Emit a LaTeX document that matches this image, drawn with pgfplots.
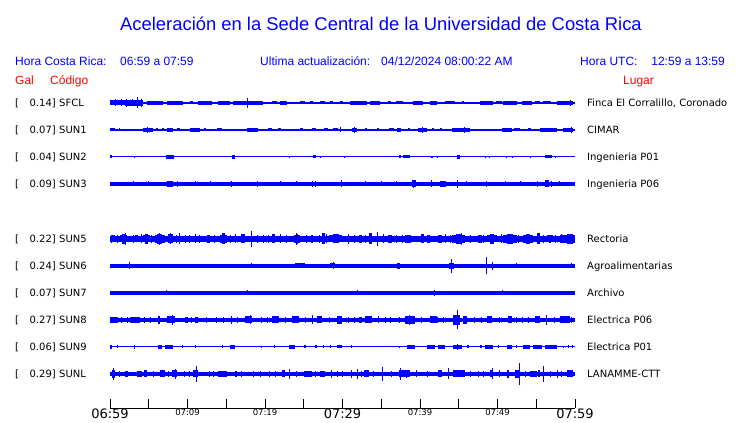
\documentclass[border=0pt]{standalone}
\usepackage{fontspec}
\setmainfont{DejaVu Sans}
\newfontfamily\arial{Liberation Sans}
\usepackage{pgfplots}
\usepackage{pgfplotstable}
\pgfplotsset{compat=1.18}

% a burst of the trace: a block w pt half-wide, h pt half-high
\pgfdeclareplotmark{blk}{%
  \pgfpathrectangle{\pgfpoint{-\bw pt}{-\bh pt}}{\pgfpoint{2*\bw pt}{2*\bh pt}}%
  \pgfusepathqfill}
\pgfplotsset{
  burst/.style={blue, only marks, mark=blk,
    visualization depends on={\thisrow{w}\as\bw},
    visualization depends on={\thisrow{h}\as\bh}},
}

% t = minutes after 06:59
\pgfplotstableread{
t w h
0.97 7.5 2.5
3.1 9 3
0.77 0.5 3.5
1.42 0.5 3.5
2.19 0.5 4
2.84 0.5 3.5
3.61 0.5 5.5
4.0 0.5 4
5.81 8 1.8
8.39 8 1.8
10.5 1.5 1.5
12.26 7 2
14.7 6 2
17.8 15 2
17.68 0.5 5
21.2 2.5 1.5
22.4 3.5 1.8
24.8 2.5 1.5
26.0 1.5 1.5
27.4 2.5 1.5
28.6 1.5 1.5
29.9 1.5 1.5
32.1 8.5 1.8
34.2 5 1.8
36.1 1.5 1.5
37.4 3.5 1.5
39.7 5 1.8
41.7 3.5 1.8
43.9 5 1.5
45.5 1 1.5
48.6 6.5 1.8
50.2 3 1.5
51.6 7 1.8
53.8 5 1.8
55.2 2.5 1.5
56.4 4 1.5
58.7 8 2
59.4 0.5 2.8
}\sfcl

\pgfplotstableread{
t w h
0.32 2.5 1.5
1.29 0.5 1.5
3.5 0.5 1.2
4.9 5 2
4.9 0.5 3
6.06 1 1.5
6.8 0.8 1.5
7.74 3 1.8
8.84 1.5 1.5
10.97 5 2
12.26 0.8 1.5
14.1 2.5 1.5
15.9 0.5 1.2
18.4 5.5 1.8
19.6 0.5 1.2
20.6 2 1.5
21.9 1.5 1.5
22.7 0.5 1.2
24.7 1.5 1.5
26.3 2 1.5
27.9 2 1.5
29.1 2.5 1.5
29.7 0.5 2.5
31.5 2.5 1.8
31.6 0.5 3
33.0 1 1.5
34.6 0.8 1.5
36.3 2.5 1.5
37.3 2 1.8
38.6 0.8 1.5
40.3 4.5 1.8
40.3 0.5 2.8
41.7 1 1.5
42.7 1 1.5
45.3 9 1.8
45.8 0.5 3.2
47.7 0.5 1.2
48.3 0.5 1.2
51.2 5 1.8
52.5 3 1.5
54.1 1.5 1.5
56.6 8.5 1.8
59.1 5 2.2
59.6 0.5 3
}\sunone

\pgfplotstableread{
t w h
0.13 1 1.5
3.2 0.5 1.3
7.74 4 2
15.9 1.5 1.8
23.2 0.5 1.3
26.4 1.5 1.5
27.1 0.5 1.2
30.2 0.5 1.3
37.4 1 1.5
38.3 3.5 1.5
41.5 1 1.3
42.2 0.5 1.3
45.0 1.5 1.8
48.5 0.5 1.2
49.0 0.5 1.3
51.1 0.5 1.2
51.9 0.5 1.2
54.2 0.5 1.2
56.6 3.5 1.5
57.5 0.5 1.2
}\suntwo

\pgfplotstableread{
t w h
3.0 0.5 2.5
5.0 0.5 2.5
7.74 3 3.2
8.77 0.5 3
11.0 0.5 2.5
13.0 0.5 2.5
15.7 0.5 3
19.0 0.5 2.6
22.0 0.5 2.5
24.0 0.5 2.5
26.1 0.5 3
26.5 0.5 3
29.9 0.5 3.5
33.0 0.5 2.5
35.0 0.5 2.5
37.0 0.5 2.5
39.2 2 3.5
39.2 0.5 4
41.5 0.5 3.5
43.0 3 3
44.9 0.5 4
46.0 0.5 2.5
48.6 0.5 2.8
51.0 0.5 2.5
53.0 0.5 2.5
55.1 0.5 2.6
56.4 2 3.5
57.0 0.5 3.2
58.0 0.5 2.5
}\sunthree

\pgfplotstableread{
t w h
0.45 1.5 3.5
1.74 3.5 3.5
1.74 1.5 5
2.06 0.5 6
3.42 1.5 3.5
4.71 3.5 3.5
4.71 1.5 5
6.45 5 3.8
6.45 2.5 5.2
6.45 0.5 6
7.81 2.5 4.5
7.87 0.5 5.5
9.03 0.5 5.5
9.68 0.5 4
12.7 3.5 3.2
12.7 1.2 4
14.65 3.5 4
14.65 1.5 5.5
17.1 5.5 3.3
17.1 2 4.5
18.3 0.5 8
21.1 1.5 4.5
24.1 3 4
24.1 1.2 5.2
24.1 0.5 6
26.1 3 3.2
26.1 1 4
27.5 1.5 5.5
29.1 6.5 3.5
29.1 3 4.5
30.8 0.5 5
32.3 1.5 4
33.6 1.5 5.5
34.5 0.5 7
36.1 5 3.3
36.1 2 4.3
39.2 8.5 3.3
38.5 3 4.3
40.3 1.5 4.5
41.1 1.5 4
42.6 2 4
45.0 6.5 3.8
45.0 3 5
45.4 0.5 6
47.7 2 4
49.3 5 3.5
49.3 2 4.6
51.6 7 3.8
51.6 3 5
53.9 5 3.8
53.9 2 5
55.3 1.5 5.5
56.8 3 3.5
56.8 1 4.3
59.0 7.5 3.6
59.3 3 4.6
0.2 0.5 4
1.0 0.5 4.2
3.0 0.5 4
4.0 0.5 4.5
5.3 0.5 4
8.6 0.5 4.2
10.3 0.5 4
11.0 0.5 4.5
11.6 0.5 4
13.5 0.5 4.2
15.5 0.5 4
16.2 0.5 4.5
19.0 0.5 4
19.8 0.5 4.2
20.4 0.5 4
22.0 0.5 4.5
22.8 0.5 4
25.3 0.5 4.2
27.0 0.5 4
28.0 0.5 4.5
31.5 0.5 4
33.0 0.5 4.2
35.3 0.5 4.5
37.0 0.5 4
37.8 0.5 4.2
40.4 0.5 4
43.3 0.5 4.5
44.0 0.5 4
46.5 0.5 4.2
48.2 0.5 4
50.5 0.5 4.5
52.7 0.5 4
55.9 0.5 4.2
57.5 0.5 4
58.2 0.5 4.5
}\sunfive

\pgfplotstableread{
t w h
1.29 3 2.2
2.58 0.5 3.5
3.6 0.5 2.2
5.2 0.5 2.2
7.35 0.5 2
8.9 0.5 2.2
10.97 0.5 2.3
12.0 0.5 2.2
13.5 0.5 2
15.0 0.5 2.2
16.3 0.5 2.2
18.3 0.5 2.5
19.1 0.5 2.3
21.0 0.5 2.2
23.0 0.5 2.2
24.5 5 2.5
26.5 0.5 2.2
28.7 2.5 2.5
28.9 0.5 3.5
30.0 0.5 2.2
31.6 0.5 2.3
33.0 0.5 2.2
34.3 4 2.3
36.0 0.5 2.2
37.2 1.5 3
39.5 0.5 2.2
41.0 0.5 2.2
43.0 0.5 2.2
44.1 2.5 3
44.1 0.5 7
45.9 0.5 2.3
47.0 0.5 2.2
48.6 0.5 8.5
49.3 0.5 4
51.0 0.5 2.2
52.5 0.5 2.5
54.0 0.5 2.2
56.5 0.5 2.2
58.0 0.5 2.2
59.6 0.5 2.5
}\sunsix

\pgfplotstableread{
t w h
0.9 0.5 2
2.58 0.5 2.3
4.0 1 2.2
7.35 0.5 2.5
8.65 0.5 2.2
14.2 0.5 2.2
17.7 0.5 2.5
28.0 0.5 2.2
31.9 0.5 2.5
41.9 0.5 3
45.2 0.5 2.2
50.6 0.5 2.5
}\sunseven

\pgfplotstableread{
t w h
0.52 4 3
3.23 5 3
6.32 1 4
7.87 4 3.5
8.0 0.5 5
9.87 1.5 3
11.2 1.5 3
15.7 0.5 4
17.9 3.5 3.5
18.1 0.5 4.5
21.4 3.5 3.5
23.9 3.5 3.5
26.1 0.5 4.5
27.0 2.5 3.5
29.6 2.5 4
32.3 1.5 3
33.4 3.5 3.5
34.6 0.5 3.5
38.7 5 4
38.7 0.5 5
41.7 3.5 3.5
43.0 0.5 3
44.7 3.5 5
44.8 0.5 9.5
45.8 2 4
49.0 2.5 3.5
51.6 2 3.5
52.5 0.5 3
55.2 2.5 3.5
56.3 0.5 5
58.7 5 3.5
1.5 0.5 3.2
2.2 0.5 3.2
4.5 0.5 3.2
5.2 0.5 3.2
10.5 0.5 3.2
12.5 0.5 3.2
13.8 0.5 3.2
14.6 0.5 3.2
16.5 0.5 3.2
19.6 0.5 3.2
20.3 0.5 3.2
22.7 0.5 3.2
25.2 0.5 3.2
28.3 0.5 3.2
30.8 0.5 3.2
31.5 0.5 3.2
35.5 0.5 3.2
36.2 0.5 3.2
37.3 0.5 3.2
40.2 0.5 3.2
42.3 0.5 3.2
47.0 0.5 3.2
48.0 0.5 3.2
50.3 0.5 3.2
53.2 0.5 3.2
54.0 0.5 3.2
57.4 0.5 3.2
59.6 0.5 3.2
}\suneight

\pgfplotstableread{
t w h
0.13 1 1.8
1.0 0.5 1.5
3.2 0.5 1.8
6.45 2 1.8
7.61 4 2
9.4 0.5 1.5
11.0 0.5 1.5
14.5 0.5 1.5
15.8 2.5 2
19.6 0.5 1.2
21.2 0.5 1.5
23.5 3 1.8
25.1 1 1.5
26.6 1 1.5
27.6 0.5 1.5
28.5 0.5 1.5
29.6 2.5 1.5
31.2 0.5 1.5
37.3 0.5 1.3
38.8 4 1.8
41.4 4 1.8
42.8 3.5 1.8
44.8 4.5 2.2
44.9 0.5 3
46.2 1 1.5
47.9 1 1.5
48.9 4 1.8
50.1 0.5 1.5
51.5 2.5 1.8
52.5 0.5 1.5
53.7 3.5 1.8
55.2 4.5 1.8
56.9 6 1.8
58.5 0.5 1.3
59.1 0.5 1.5
59.7 0.5 1.5
}\sunnine

\pgfplotstableread{
t w h
0.45 1.5 4
0.39 0.5 6
2.13 1.5 3
3.8 2.5 3
4.58 1.5 3.5
6.77 2.5 3.5
8.32 2.5 3.5
8.4 0.5 5.3
11.0 2.5 3.5
11.2 0.5 8
14.5 4.5 3
16.3 1 3
22.4 1.5 3.5
23.2 0.5 5
25.5 4 3
27.4 2.5 3
28.6 0.5 4
31.2 0.5 4
31.9 0.5 5
33.1 2.5 3.5
35.1 0.5 7
38.0 5.5 3.5
37.5 0.5 6
38.3 0.5 4
39.6 0.5 3.5
42.6 2 3.5
43.7 0.5 5.5
45.0 6 3.5
49.2 1.5 3.5
49.3 0.5 5.5
50.3 0.5 3.5
51.3 1 4
52.6 2.5 4
52.8 0.5 11
54.6 3.5 3
55.4 1 3.5
56.0 0.5 8
56.8 0.5 3
57.7 0.5 4
59.4 3 3.5
1.2 0.5 3
5.6 0.5 3
7.5 0.5 3
9.6 0.5 3
10.2 0.5 3
12.8 0.5 3
13.3 0.5 3
17.0 0.5 3
18.5 0.5 3
19.4 0.5 3
20.6 0.5 3
21.3 0.5 3
24.0 0.5 3
26.5 0.5 3
29.3 0.5 3
30.0 0.5 3
32.5 0.5 3
34.0 0.5 3
36.3 0.5 3
41.0 0.5 3
46.5 0.5 3
47.5 0.5 3
48.2 0.5 3
53.6 0.5 3
58.3 0.5 3
}\sunl

\begin{document}
\begin{tikzpicture}
\path[use as bounding box] (0,0) rectangle (740pt,423pt);

\begin{axis}[
  at={(110pt,15pt)}, anchor=south west,
  scale only axis, width=465pt, height=318pt,
  xmin=0, xmax=60, ymin=15, ymax=333,
  axis x line=bottom, axis y line=none,
  axis line style={-, black, line width=0.9pt},
  xtick={0,5,...,60},
  xticklabels={{\fontsize{13}{13}\selectfont 06:59},,{\fontsize{8.5}{9}\selectfont 07:09},,
    {\fontsize{8.5}{9}\selectfont 07:19},,{\fontsize{13}{13}\selectfont 07:29},,
    {\fontsize{8.5}{9}\selectfont 07:39},,{\fontsize{8.5}{9}\selectfont 07:49},,
    {\fontsize{13}{13}\selectfont 07:59}},
  xticklabel style={inner sep=1pt, black},
  tick align=inside, major tick length=9pt,
  tick style={black, line width=0.9pt},
  clip=false,
]
\addplot[blue, line width=1.3pt] coordinates {(0,320) (60,320)};
\addplot[burst] table[x=t, y expr=320] {\sfcl};
\addplot[blue, line width=1.2pt] coordinates {(0,293) (60,293)};
\addplot[burst] table[x=t, y expr=293] {\sunone};
\addplot[blue, line width=1pt] coordinates {(0,266) (60,266)};
\addplot[burst] table[x=t, y expr=266] {\suntwo};
\addplot[blue, line width=4.2pt] coordinates {(0,239) (60,239)};
\addplot[burst] table[x=t, y expr=239] {\sunthree};
\addplot[blue, line width=5.4pt] coordinates {(0,184) (60,184)};
\addplot[burst] table[x=t, y expr=184] {\sunfive};
\addplot[blue, line width=3.4pt] coordinates {(0,157) (60,157)};
\addplot[burst] table[x=t, y expr=157] {\sunsix};
\addplot[blue, line width=3.2pt] coordinates {(0,130) (60,130)};
\addplot[burst] table[x=t, y expr=130] {\sunseven};
\addplot[blue, line width=4.3pt] coordinates {(0,103) (60,103)};
\addplot[burst] table[x=t, y expr=103] {\suneight};
\addplot[blue, line width=1pt] coordinates {(0,76) (60,76)};
\addplot[burst] table[x=t, y expr=76] {\sunnine};
\addplot[blue, line width=4pt] coordinates {(0,49) (60,49)};
\addplot[burst] table[x=t, y expr=49] {\sunl};
\end{axis}

% header
\begin{scope}[every node/.style={inner sep=0pt, font=\arial\fontsize{12}{14}\selectfont}]
\node[blue, font=\arial\fontsize{18.4}{20}\selectfont] at (381pt,399pt) {Aceleración en la Sede Central de la Universidad de Costa Rica};
\node[blue, anchor=base west] at (15pt,357pt) {Hora Costa Rica:};
\node[blue, anchor=base west] at (120pt,357pt) {06:59 a 07:59};
\node[blue, anchor=base west] at (260pt,357pt) {Ultima actualización:};
\node[blue, anchor=base west] at (381pt,357pt) {04/12/2024 08:00:22 AM};
\node[blue, anchor=base west] at (580pt,357pt) {Hora UTC:};
\node[blue, anchor=base east] at (725pt,357pt) {12:59 a 13:59};
\node[red, anchor=base west] at (15pt,338pt) {Gal};
\node[red, anchor=base west] at (50pt,338pt) {Código};
\node[red, anchor=base west] at (623pt,338pt) {Lugar};
\end{scope}

% station rows
\begin{scope}[every node/.style={inner sep=0pt, font=\fontsize{10}{12}\selectfont}]
\foreach \yy/\gal/\code/\place in {
  320/0.14/SFCL/{Finca El Corralillo, Coronado},
  293/0.07/SUN1/CIMAR,
  266/0.04/SUN2/Ingenieria P01,
  239/0.09/SUN3/Ingenieria P06,
  184/0.22/SUN5/Rectoria,
  157/0.24/SUN6/Agroalimentarias,
  130/0.07/SUN7/Archivo,
  103/0.27/SUN8/Electrica P06,
  76/0.06/SUN9/Electrica P01,
  49/0.29/SUNL/LANAMME-CTT}{
  \node[anchor=base west] at (15pt,\yy pt-3.6pt) {[};
  \node[anchor=base east] at (56pt,\yy pt-3.6pt) {\gal]};
  \node[anchor=base west] at (59pt,\yy pt-3.6pt) {\code};
  \node[anchor=base west] at (587pt,\yy pt-3.6pt) {\place};
}
\end{scope}
\end{tikzpicture}
\end{document}
